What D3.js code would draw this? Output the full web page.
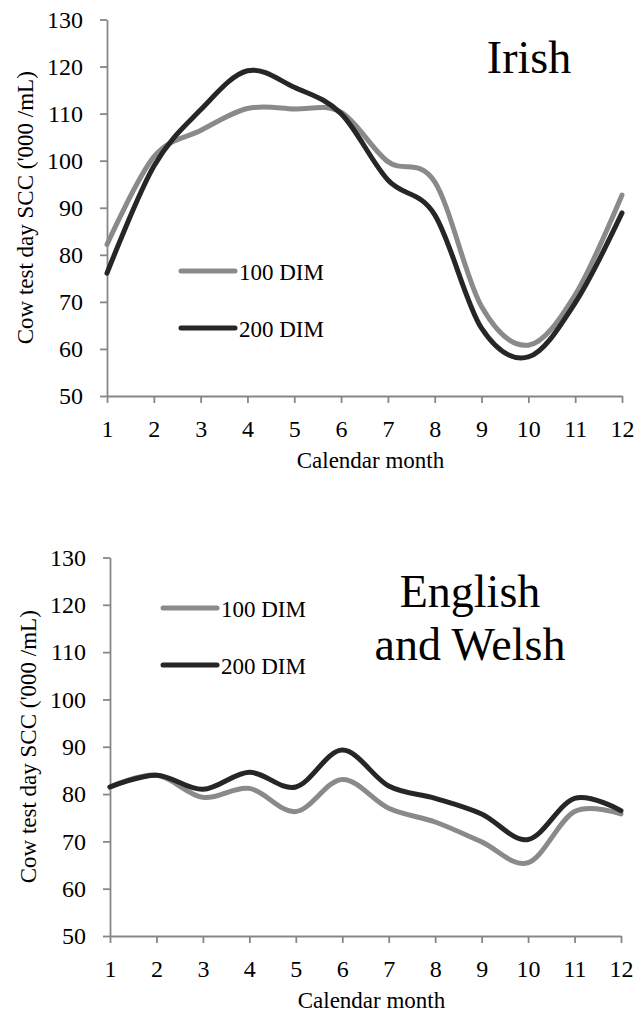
<!DOCTYPE html>
<html>
<head>
<meta charset="utf-8">
<script src="https://cdn.jsdelivr.net/npm/d3@7"></script>
<style>
  html, body { margin: 0; padding: 0; background: #fff; }
  svg text { font-family: "Liberation Serif", "Times New Roman", serif; fill: #000; }
</style>
</head>
<body>
<div id="chart"></div>
<script>
const months = [1, 2, 3, 4, 5, 6, 7, 8, 9, 10, 11, 12];
const yTicks = [50, 60, 70, 80, 90, 100, 110, 120, 130];
const seriesNames = ['100 DIM', '200 DIM'];

// Irish herds
const irish100 = [82.2, 100.8, 106.4, 111.1, 111.0, 110.3, 99.8, 95.5, 69.0, 60.8, 71.5, 92.7];
const irish200 = [76.1, 98.8, 110.8, 119.1, 115.6, 110.0, 95.9, 88.5, 64.4, 58.3, 69.8, 88.9];

// English and Welsh herds
const ew100 = [81.5, 84.0, 79.3, 81.2, 76.3, 83.1, 77.0, 74.1, 69.9, 65.5, 76.3, 75.8];
const ew200 = [81.5, 84.0, 81.0, 84.6, 81.5, 89.3, 81.7, 79.1, 75.8, 70.4, 79.1, 76.5];

const colors = ['#8a8a8a', '#262626'];
const W = 636, H = 1018;

const svg = d3.select('#chart').append('svg').attr('width', W).attr('height', H);
svg.append('rect').attr('width', W).attr('height', H).attr('fill', '#fff');

function drawPanel(opts) {
    const { left, right, top, bottom, series, title, legendX, legendY, titleX, titleY } = opts;
    const g = svg.append('g');

    const x = d3.scaleLinear().domain([1, 12]).range([left, right]);
    const y = d3.scaleLinear().domain([50, 130]).range([bottom, top]);

    const yAxis = g.append('g').attr('transform', `translate(${left},0)`)
        .call(d3.axisLeft(y).tickValues(yTicks).tickSize(7).tickSizeOuter(0).tickPadding(17));
    const xAxis = g.append('g').attr('transform', `translate(0,${bottom})`)
        .call(d3.axisBottom(x).tickValues(months).tickSize(7).tickSizeOuter(0).tickPadding(17).tickFormat(d3.format('d')));

    [xAxis, yAxis].forEach(a => {
        a.selectAll('path, line').attr('stroke', '#878787').attr('stroke-width', 1.8);
        a.selectAll('text').style('font-size', '24px').attr('fill', '#000')
            .style('font-family', '"Liberation Serif", "Times New Roman", serif');
    });

    g.append('text')
        .attr('x', (left + right) / 2 + 6).attr('y', bottom + 72)
        .attr('text-anchor', 'middle').style('font-size', '23px')
        .text('Calendar month');

    g.append('text')
        .attr('transform', `translate(${left - 74},${(top + bottom) / 2}) rotate(-90)`)
        .attr('text-anchor', 'middle').style('font-size', '23px')
        .text("Cow test day SCC ('000 /mL)");

    const line = d3.line()
        .x((d, i) => x(months[i]))
        .y(d => y(d))
        .curve(d3.curveCardinal.tension(0));

    series.forEach((vals, i) => {
        g.append('path').datum(vals)
            .attr('fill', 'none').attr('stroke', colors[i])
            .attr('stroke-width', 5).attr('stroke-linejoin', 'round').attr('stroke-linecap', 'round')
            .attr('d', line);
    });

    seriesNames.forEach((name, i) => {
        const ly = legendY + i * 57;
        g.append('line')
            .attr('x1', legendX).attr('x2', legendX + 54).attr('y1', ly).attr('y2', ly)
            .attr('stroke', colors[i]).attr('stroke-width', 5).attr('stroke-linecap', 'round');
        g.append('text').attr('x', legendX + 58).attr('y', ly + 8.5)
            .style('font-size', '23px').text(name);
    });

    const t = g.append('text').attr('text-anchor', 'middle').style('font-size', '46px');
    title.forEach((s, i) => {
        t.append('tspan').attr('x', titleX).attr('y', titleY + i * 53).text(s);
    });
}

drawPanel({
    left: 107, right: 622, top: 19.5, bottom: 396,
    series: [irish100, irish200],
    title: ['Irish'], titleX: 529, titleY: 73,
    legendX: 181, legendY: 271
});

drawPanel({
    left: 110, right: 621, top: 557.5, bottom: 936,
    series: [ew100, ew200],
    title: ['English', 'and Welsh'], titleX: 470, titleY: 607,
    legendX: 163, legendY: 608
});
</script>
</body>
</html>
